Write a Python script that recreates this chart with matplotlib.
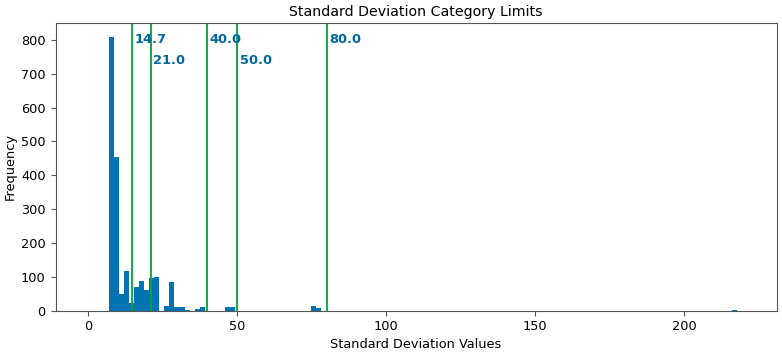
import matplotlib.pyplot as plt
import numpy as np

# histogram bins (equal width bins)
bin_start = 6.8
bin_width = 1.7
n_bins = 124

bin_index = [0, 1, 2, 3, 4, 5, 6, 7, 8, 9, 11, 12, 13, 14, 15, 17, 18, 23, 24, 40, 41, 123]
frequency = [807, 453, 48, 116, 24, 71, 89, 60, 96, 99, 15, 86, 10, 10, 2, 6, 10, 12, 12, 13, 8, 3]

limits = [14.7, 21.0, 40.0, 50.0, 80.0]
label_y = [800, 740, 800, 740, 800]

edges = bin_start + bin_width * np.arange(n_bins + 1)
centers = bin_start + bin_width * (np.array(bin_index) + 0.5)

plt.rcParams["font.size"] = 9.3

fig, ax = plt.subplots(figsize=(7.82, 3.53), dpi=100)
ax.hist(centers, bins=edges, weights=frequency, color="#0173b2")

for lim, y in zip(limits, label_y):
  ax.axvline(lim, color="#00a33a", linewidth=1.3)
  ax.text(lim + 0.8, y, f"{lim:.1f}", color="#0066a0", fontweight="bold",
          fontsize=9.4, va="center", ha="left")

ax.set_xlim(-11, 231)
ax.set_ylim(0, 850)
ax.set_title("Standard Deviation Category Limits", fontsize=10.2, pad=5)
ax.set_xlabel("Standard Deviation Values", labelpad=3)
ax.set_ylabel("Frequency", labelpad=3)
for s in ax.spines.values():
  s.set_color("#555555")
ax.tick_params(color="#555555")

fig.subplots_adjust(left=0.071, right=0.993, top=0.935, bottom=0.12)
fig.savefig("out.png")
